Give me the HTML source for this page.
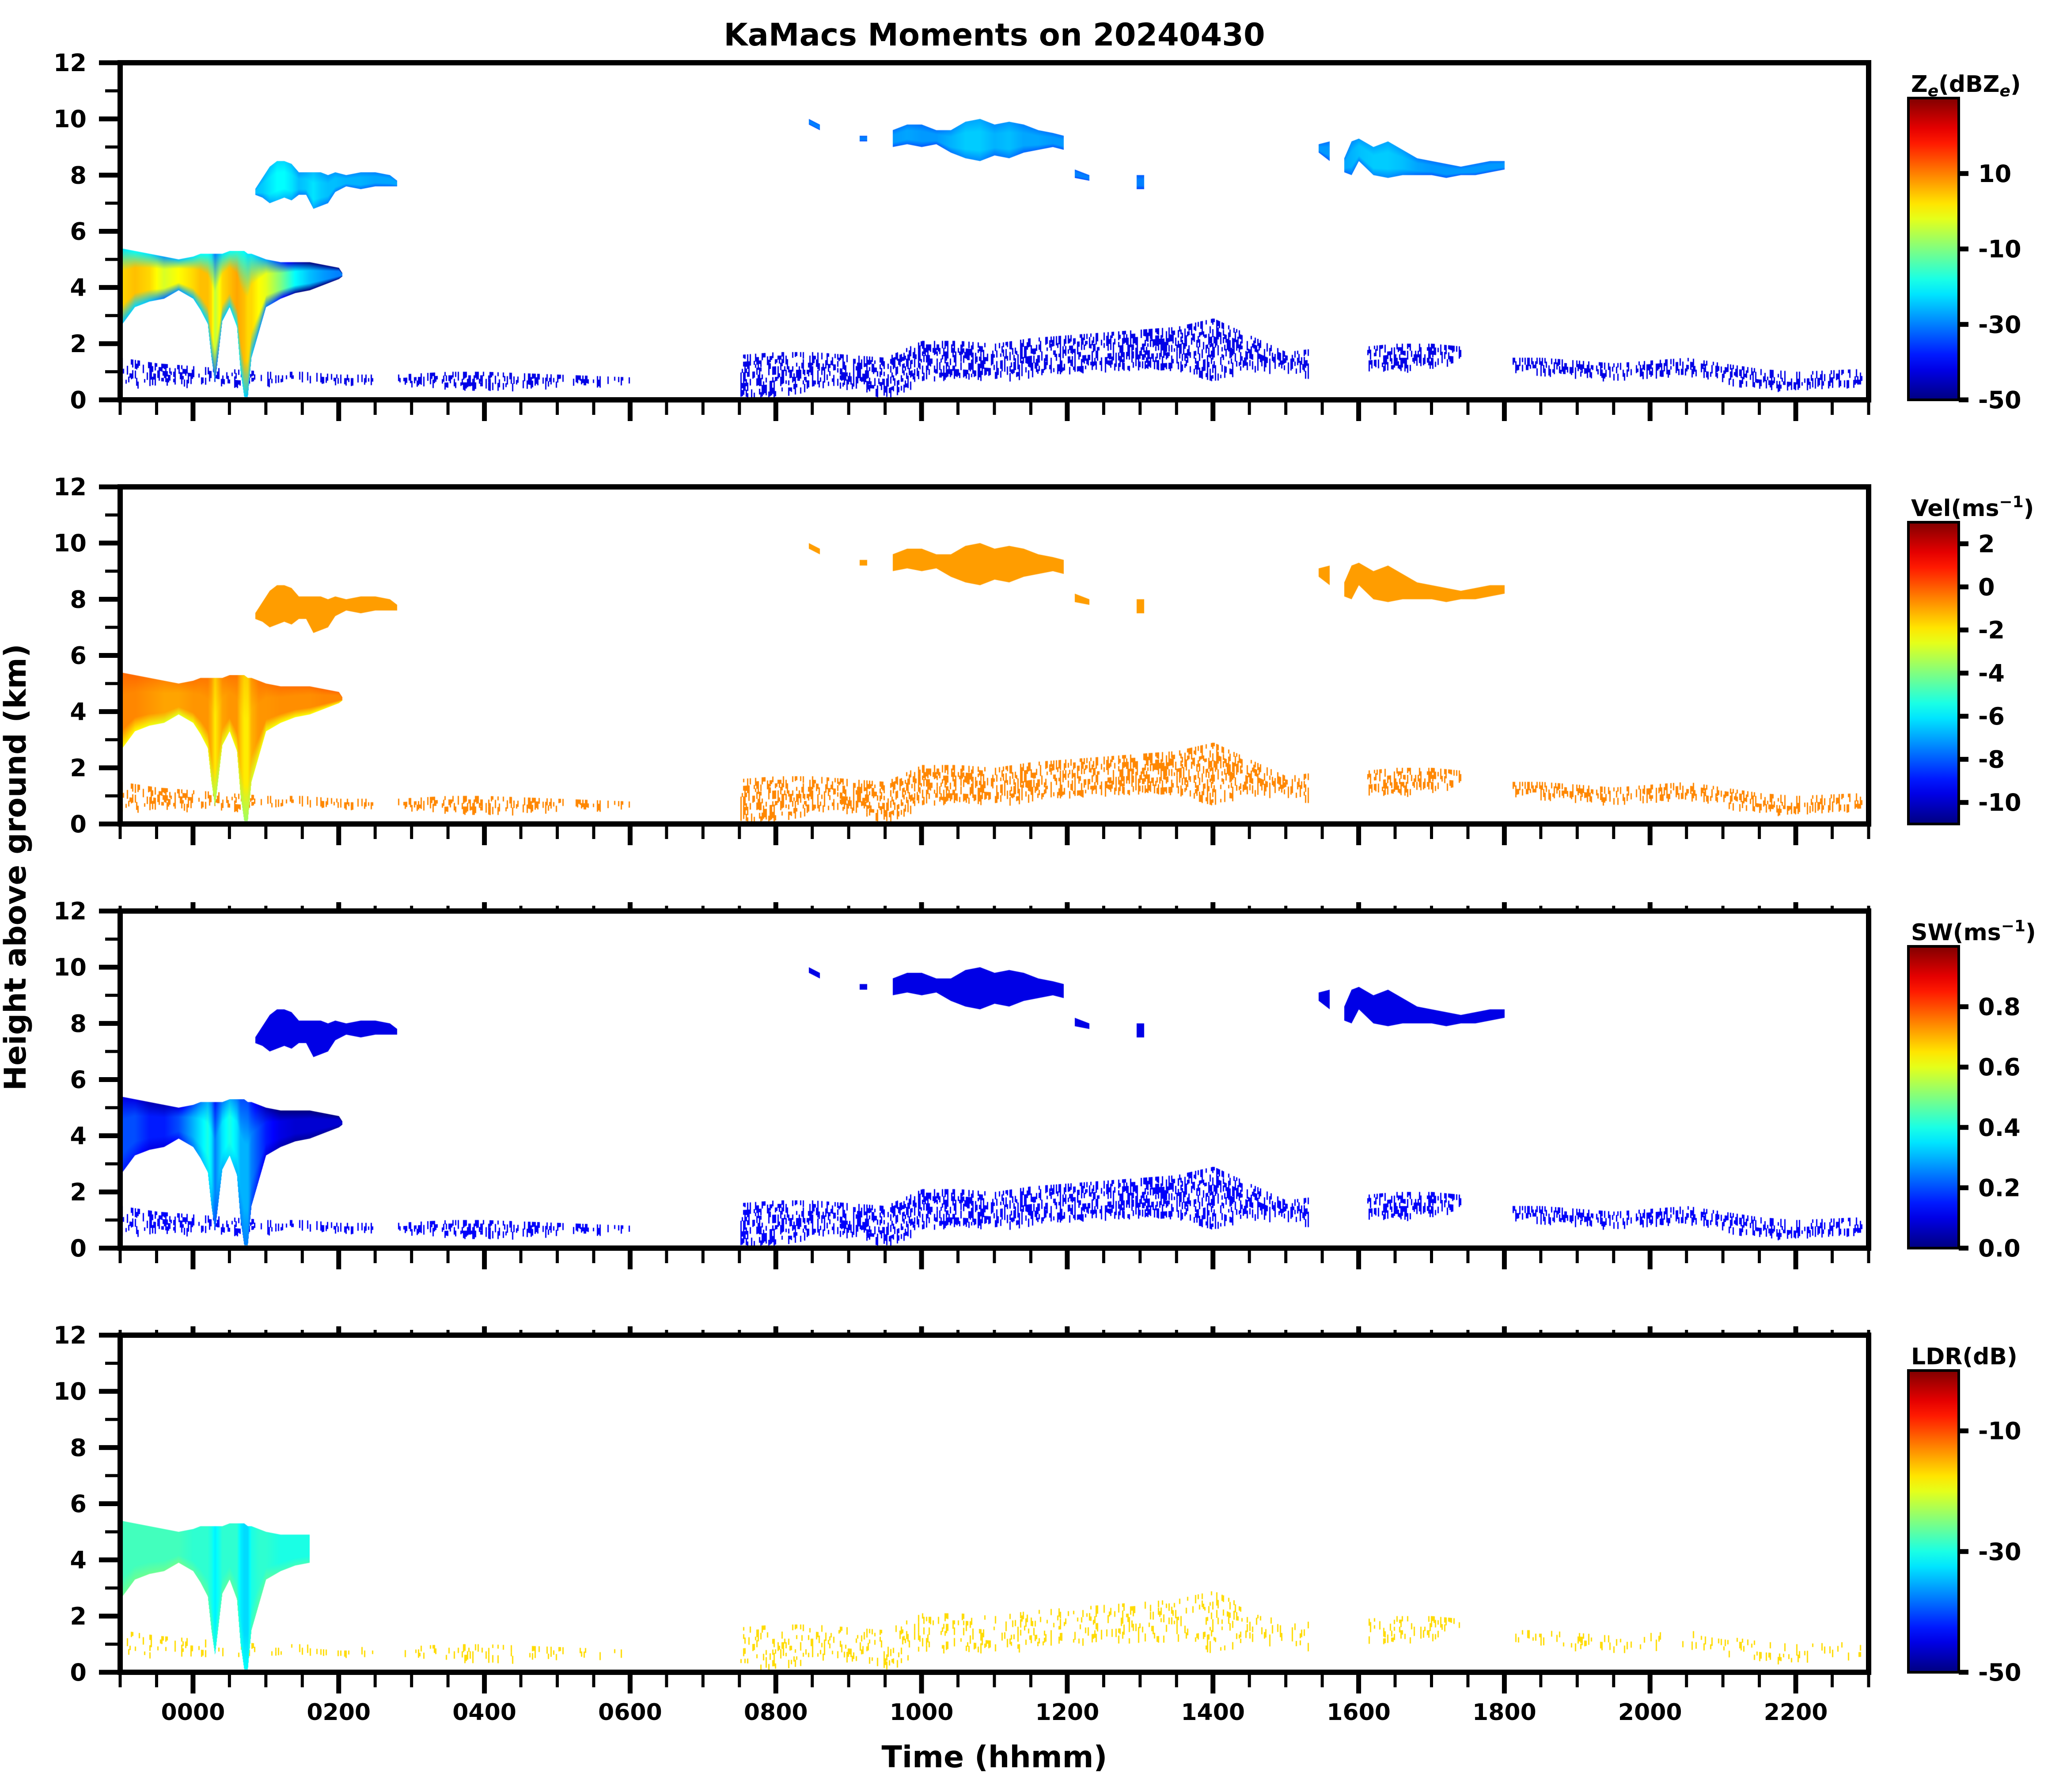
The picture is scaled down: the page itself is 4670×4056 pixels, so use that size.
<!DOCTYPE html>
<html><head><meta charset="utf-8">
<style>
html,body{margin:0;padding:0;background:#fff;}
#root{position:relative;width:4670px;height:4056px;overflow:hidden;background:#fff;font-family:"DejaVu Sans","Liberation Sans",sans-serif;}
canvas{position:absolute;}
svg{position:absolute;left:0;top:0;}
</style></head>
<body>
<div id="root">
<canvas id="c0"></canvas>
<canvas id="c1"></canvas>
<canvas id="c2"></canvas>
<canvas id="c3"></canvas>
<svg id="ax" width="4670" height="4056"></svg>
</div>
<script>
// ---- time axis (hours), height axis (km)
const xTickHours = [0,2,4,6,8,10,12,14,16,18,20,22];
const xTickLabels = ["0000","0200","0400","0600","0800","1000","1200","1400","1600","1800","2000","2200"];
const yTickKm = [0,2,4,6,8,10,12];
const yTickLabels = ["0","2","4","6","8","10","12"];

// colorbars
const cbRanges = [[-50,30],[-11,3],[0,1],[-50,0]];
const cbTicks0 = [10,-10,-30,-50];
const cbTicks1 = [2,0,-2,-4,-6,-8,-10];
const cbTicks2 = [0.8,0.6,0.4,0.2,0.0];
const cbTicks3 = [-10,-30,-50];
const cbTickLabels2 = ["0.8","0.6","0.4","0.2","0.0"];

// ---- cloud features: times (h), top/base heights (km), core values per field
const mainT    = [-1,-0.8,-0.6,-0.4,-0.2,0,0.1,0.2,0.25,0.3,0.4,0.5,0.6,0.65,0.7,0.75,0.8,0.9,1.0,1.2,1.4,1.6,1.8,2.0,2.05];
const mainTop  = [5.4,5.3,5.2,5.1,5.0,5.1,5.2,5.2,5.2,5.2,5.2,5.3,5.3,5.3,5.3,5.2,5.2,5.1,5.0,4.9,4.9,4.9,4.8,4.7,4.5];
const mainBase = [2.6,3.3,3.5,3.6,3.9,3.6,3.2,2.7,1.5,0.6,2.8,3.3,2.6,1.0,0.1,0.1,1.5,2.4,3.3,3.6,3.8,3.9,4.1,4.3,4.4];
const mainZe   = [3,5,3,-3,0,3,5,5,3,-5,3,5,7,6,5,3,3,0,-2,-10,-20,-25,-28,-30,-30];
const mainVel  = [-0.6,-0.6,-0.8,-1,-1,-0.8,-0.8,-0.8,-1.2,-2,-1,-0.8,-0.8,-1.5,-2,-2,-1.2,-0.8,-0.8,-0.7,-0.7,-0.7,-0.6,-0.6,-0.6];
const mainSW   = [0.2,0.2,0.15,0.15,0.2,0.3,0.35,0.4,0.35,0.25,0.35,0.4,0.35,0.3,0.3,0.3,0.25,0.2,0.15,0.1,0.08,0.08,0.08,0.08,0.08];
const mainLDR  = [-28,-28,-28,-28,-28,-29,-29,-29,-30,-32,-29,-29,-29,-32,-33,-33,-30,-29,-29,-30,-30,-30,null,null,null];

const cirAT    = [0.85,0.95,1.05,1.15,1.25,1.35,1.45,1.55,1.65,1.75,1.85,1.95,2.1,2.3,2.5,2.7,2.8];
const cirATop  = [7.5,7.9,8.3,8.5,8.5,8.4,8.1,8.1,8.1,8.1,8.0,8.1,8.0,8.1,8.1,8.0,7.8];
const cirABase = [7.3,7.2,7.0,7.1,7.2,7.1,7.3,7.3,6.8,6.9,7.0,7.4,7.6,7.5,7.6,7.6,7.6];
const cirAZe   = [-25,-24,-22,-20,-20,-22,-25,-24,-22,-24,-25,-25,-26,-26,-27,-27,-27];

const cirBT    = [8.45,8.6,8.7,9.15,9.25,9.35,9.6,9.8,10.0,10.2,10.4,10.6,10.8,11.0,11.2,11.4,11.6,11.8,11.95,12.0,12.1,12.3,12.4,12.95,13.05];
const cirBTop  = [10.0,9.8,null,9.4,9.4,null,9.6,9.8,9.8,9.6,9.6,9.9,10.0,9.8,9.9,9.8,9.6,9.5,9.4,null,8.2,8.0,null,8.0,8.0];
const cirBBase = [9.8,9.6,null,9.2,9.2,null,9.0,9.1,9.0,9.1,8.8,8.6,8.5,8.7,8.6,8.8,8.9,9.0,8.9,null,7.9,7.8,null,7.5,7.5];
const cirBZe   = [-30,-30,-30,-30,-30,-30,-28,-27,-28,-28,-26,-24,-24,-26,-25,-27,-27,-28,-28,-30,-30,-30,-30,-30,-30];

const cirCT    = [15.45,15.6,15.7,15.8,15.9,16.0,16.2,16.4,16.6,16.8,17.0,17.2,17.4,17.6,17.8,18.0];
const cirCTop  = [9.1,9.2,null,8.6,9.2,9.3,9.0,9.2,8.9,8.6,8.5,8.4,8.3,8.4,8.5,8.5];
const cirCBase = [8.8,8.5,null,8.1,8.0,8.5,8.0,7.9,8.0,8.0,8.0,7.9,8.0,8.0,8.1,8.2];
const cirCZe   = [-28,-28,-28,-27,-26,-25,-24,-24,-25,-27,-28,-28,-28,-28,-28,-28];

const lowAT = [-1,-0.5,0,0.5,1,1.5,2,2.5];
const lowATop = [1.5,1.3,1.2,1.1,1.0,1.0,0.9,0.9];
const lowABase = [0.6,0.7,0.7,0.6,0.7,0.8,0.7,0.7];
const lowBT = [2.8,3.5,4,4.5,5,5.5,6];
const lowBTop = [0.9,1.0,1.0,0.95,0.9,0.85,0.8];
const lowBBase = [0.7,0.6,0.55,0.55,0.6,0.7,0.75];
const lowCT = [7.5,8,8.5,9,9.5,10,10.5,11,11.5,12,12.5,13,13.5,14,14.5,15,15.3];
const lowCTop = [1.6,1.7,1.7,1.6,1.5,2.1,2.1,2.0,2.2,2.3,2.4,2.5,2.6,2.9,2.3,1.7,1.8];
const lowCBase = [0.2,0.3,0.5,0.6,0.2,0.8,0.9,0.9,1.0,1.1,1.2,1.2,1.3,0.8,1.2,1.2,1.0];
const lowET = [16.1,16.5,17.0,17.4];
const lowETop = [1.9,2.0,2.0,1.9];
const lowEBase = [1.2,1.2,1.3,1.5];
const lowFT = [18.1,18.5,19,19.5,20,20.5,21,21.5,22,22.9];
const lowFTop = [1.5,1.5,1.4,1.3,1.4,1.5,1.3,1.1,1.0,1.1];
const lowFBase = [1.2,1.1,1.0,0.9,0.9,1.0,0.8,0.5,0.5,0.6];

// ---- layout
const L=272, R=4230, PT=[142,1102,2062,3022], PH=763;
const T0=-1, T1=23;
function xOf(t){return L+(t-T0)/(T1-T0)*(R-L);}
function yOf(h,p){return PT[p]+PH-h/12*PH;}
function jet(v){v=Math.max(0,Math.min(1,v));
 const c=x=>Math.round(255*Math.max(0,Math.min(1,1.5-Math.abs(x))));
 return `rgb(${c(4*v-3)},${c(4*v-2)},${c(4*v-1)})`;}
function norm(val,p){const r=cbRanges[p];return (val-r[0])/(r[1]-r[0]);}
function hash(a,b){let h=(a*374761393+b*668265263)|0;h=(h^(h>>>13))*1274126177|0;return ((h^(h>>>16))>>>0)%1000/1000;}

function interp(T,A,t){
 for(let i=0;i<T.length-1;i++){ if(t>=T[i]&&t<=T[i+1]){
   if(A[i]==null||A[i+1]==null) return null;
   const f=(t-T[i])/(T[i+1]-T[i]); return A[i]+(A[i+1]-A[i])*f; } }
 return null;}

// solid feature: 1-px columns with vertical gradient edge-core-edge
function drawFeature(ctx,p,T,Top,Base,V,topOff,baseOff){
 const x0=Math.floor(xOf(T[0])), x1=Math.ceil(xOf(T[T.length-1]));
 for(let x=x0;x<=x1;x++){
  const t=T0+(x-L)/(R-L)*(T1-T0);
  const tp=interp(T,Top,t), bs=interp(T,Base,t), v=(typeof V==='number')?V:interp(T,V,t);
  if(tp==null||bs==null||v==null) continue;
  const yt=yOf(tp,p)-PT[p], yb=yOf(bs,p)-PT[p];
  if(yb-yt<1) continue;
  const g=ctx.createLinearGradient(0,yt,0,yb);
  g.addColorStop(0,jet(norm(v+topOff,p)));
  g.addColorStop(0.3,jet(norm(v,p)));
  g.addColorStop(0.75,jet(norm(v,p)));
  g.addColorStop(1,jet(norm(v+baseOff,p)));
  ctx.fillStyle=g; ctx.fillRect(x-L,yt,1,yb-yt);
 }
}
// speckled feature: small vertical dashes
function drawSpeckle(ctx,p,T,Top,Base,V,density){
 const x0=Math.floor(xOf(T[0])), x1=Math.ceil(xOf(T[T.length-1]));
 ctx.fillStyle=jet(norm(V,p));
 for(let x=x0;x<=x1;x+=3){
  const t=T0+(x-L)/(R-L)*(T1-T0);
  const tp=interp(T,Top,t), bs=interp(T,Base,t);
  if(tp==null||bs==null) continue;
  const yt=yOf(tp,p)-PT[p], yb=yOf(bs,p)-PT[p];
  for(let y=yt;y<yb;y+=8){
   if(hash(x,Math.round(y))<density) ctx.fillRect(x-L,y,3,8+Math.floor(hash(y,x)*12));
  }
 }
}

const lows=[[lowAT,lowATop,lowABase],[lowBT,lowBTop,lowBBase],[lowCT,lowCTop,lowCBase],[lowET,lowETop,lowEBase],[lowFT,lowFTop,lowFBase]];
const cirs=[[cirAT,cirATop,cirABase,cirAZe],[cirBT,cirBTop,cirBBase,cirBZe],[cirCT,cirCTop,cirCBase,cirCZe]];
const lowVals=[-42,-0.6,0.12,-17];
const lowDensity=[0.32,0.3,0.32,0.12];
const cirVel=-0.9, cirSW=0.1;

for(let p=0;p<4;p++){
 const cv=document.getElementById('c'+p);
 cv.width=R-L; cv.height=PH; cv.style.left=L+'px'; cv.style.top=PT[p]+'px';
 const ctx=cv.getContext('2d');
 lows.forEach(f=>drawSpeckle(ctx,p,f[0],f[1],f[2],lowVals[p],lowDensity[p]));
 if(p<3) cirs.forEach(f=>{
   if(p===0) drawFeature(ctx,p,f[0],f[1],f[2],f[3],-3,-5);
   else drawFeature(ctx,p,f[0],f[1],f[2],p===1?cirVel:cirSW,0,0);
 });
 if(p===0) drawFeature(ctx,0,mainT,mainTop,mainBase,mainZe,-25,-28);
 if(p===1) drawFeature(ctx,1,mainT,mainTop,mainBase,mainVel,0.4,-1.6);
 if(p===2) drawFeature(ctx,2,mainT,mainTop,mainBase,mainSW,-0.1,-0.05);
 if(p===3) drawFeature(ctx,3,mainT,mainTop,mainBase,mainLDR,0,2);
}

// ---- SVG axes
const NS='http://www.w3.org/2000/svg';
const svg=document.getElementById('ax');
function el(tag,attrs,parent){const e=document.createElementNS(NS,tag);for(const k in attrs)e.setAttribute(k,attrs[k]);(parent||svg).appendChild(e);return e;}
function txt(s,attrs,parent){const e=el('text',attrs,parent);e.textContent=s;return e;}

const defs=el('defs',{});
const grad=el('linearGradient',{id:'jetg',x1:0,y1:1,x2:0,y2:0},defs);
for(let i=0;i<=20;i++){el('stop',{offset:i/20,'stop-color':jet(i/20)},grad);}

const title=txt('KaMacs Moments on 20240430',{x:2251,y:103,'text-anchor':'middle','font-size':70,'font-weight':'bold','font-family':'DejaVu Sans, sans-serif'});



const tickLists=[cbTicks0,cbTicks1,cbTicks2,cbTicks3];
for(let p=0;p<4;p++){
 const g=el('g',{});
 
 
 const top=PT[p], bot=PT[p]+PH;
 for(let h=0;h<=12;h++){
  const y=yOf(h,p), major=h%2===0;
  el('line',{x1:major?224:238,x2:L,y1:y,y2:y,stroke:'#000','stroke-width':major?11:7},g);
 }
 yTickKm.forEach((h,i)=>{
  const t=txt(yTickLabels[i],{x:196,y:yOf(h,p)+19,'text-anchor':'end','font-size':54,'font-weight':'bold'},g);
  
  
 });
 for(let m=-60;m<=1380;m+=30){
  const x=xOf(m/60), major=(m%120===0&&m>=0);
  el('line',{x1:x,x2:x,y1:bot,y2:bot+(major?48:34),stroke:'#000','stroke-width':major?11:7},g);
  if(p>=2) el('line',{x1:x,x2:x,y1:top,y2:top-(major?20:12),stroke:'#000','stroke-width':major?11:7},g);
 }
 const fr=el('rect',{x:L,y:top,width:R-L,height:PH,fill:'none',stroke:'#000','stroke-width':12},g);
 
 
 const cbx=4320, cbw=114, cbt=top+80, cbb=bot;
 const cb=el('rect',{x:cbx,y:cbt,width:cbw,height:cbb-cbt,fill:'url(#jetg)',stroke:'#000','stroke-width':6},g);
 
 
 const r=cbRanges[p];
 tickLists[p].forEach((v,i)=>{
  const y=cbb-(v-r[0])/(r[1]-r[0])*(cbb-cbt);
  el('line',{x1:cbx+cbw,x2:cbx+cbw+22,y1:y,y2:y,stroke:'#000','stroke-width':11},g);
  const lab=p===2?cbTickLabels2[i]:String(v);
  const t=txt(lab,{x:4478,y:y+19,'font-size':54,'font-weight':'bold'},g);
  
  
 });
 const ct=el('text',{x:4326,y:top+66,'font-size':52,'font-weight':'bold'},g);
 
 
 if(p===0){ct.innerHTML='Z<tspan font-size="36" font-style="italic" dy="10">e</tspan><tspan dy="-10">(dBZ</tspan><tspan font-size="36" font-style="italic" dy="10">e</tspan><tspan dy="-10">)</tspan>';}
 else if(p===1){ct.innerHTML='Vel(ms<tspan font-size="36" dy="-20">−1</tspan><tspan dy="20">)</tspan>';}
 else if(p===2){ct.innerHTML='SW(ms<tspan font-size="36" dy="-20">−1</tspan><tspan dy="20">)</tspan>';}
 else ct.textContent='LDR(dB)';
}
xTickHours.forEach((h,i)=>{
 const t=txt(xTickLabels[i],{x:xOf(h),y:3893,'text-anchor':'middle','font-size':52,'font-weight':'bold'});
 
 
});
const xl=txt('Time (hhmm)',{x:2251,y:4000,'text-anchor':'middle','font-size':68,'font-weight':'bold'});


const yl=txt('Height above ground (km)',{x:0,y:0,'text-anchor':'middle','font-size':68,'font-weight':'bold',transform:'translate(58,1963) rotate(-90)'});


</script>
</body></html>
